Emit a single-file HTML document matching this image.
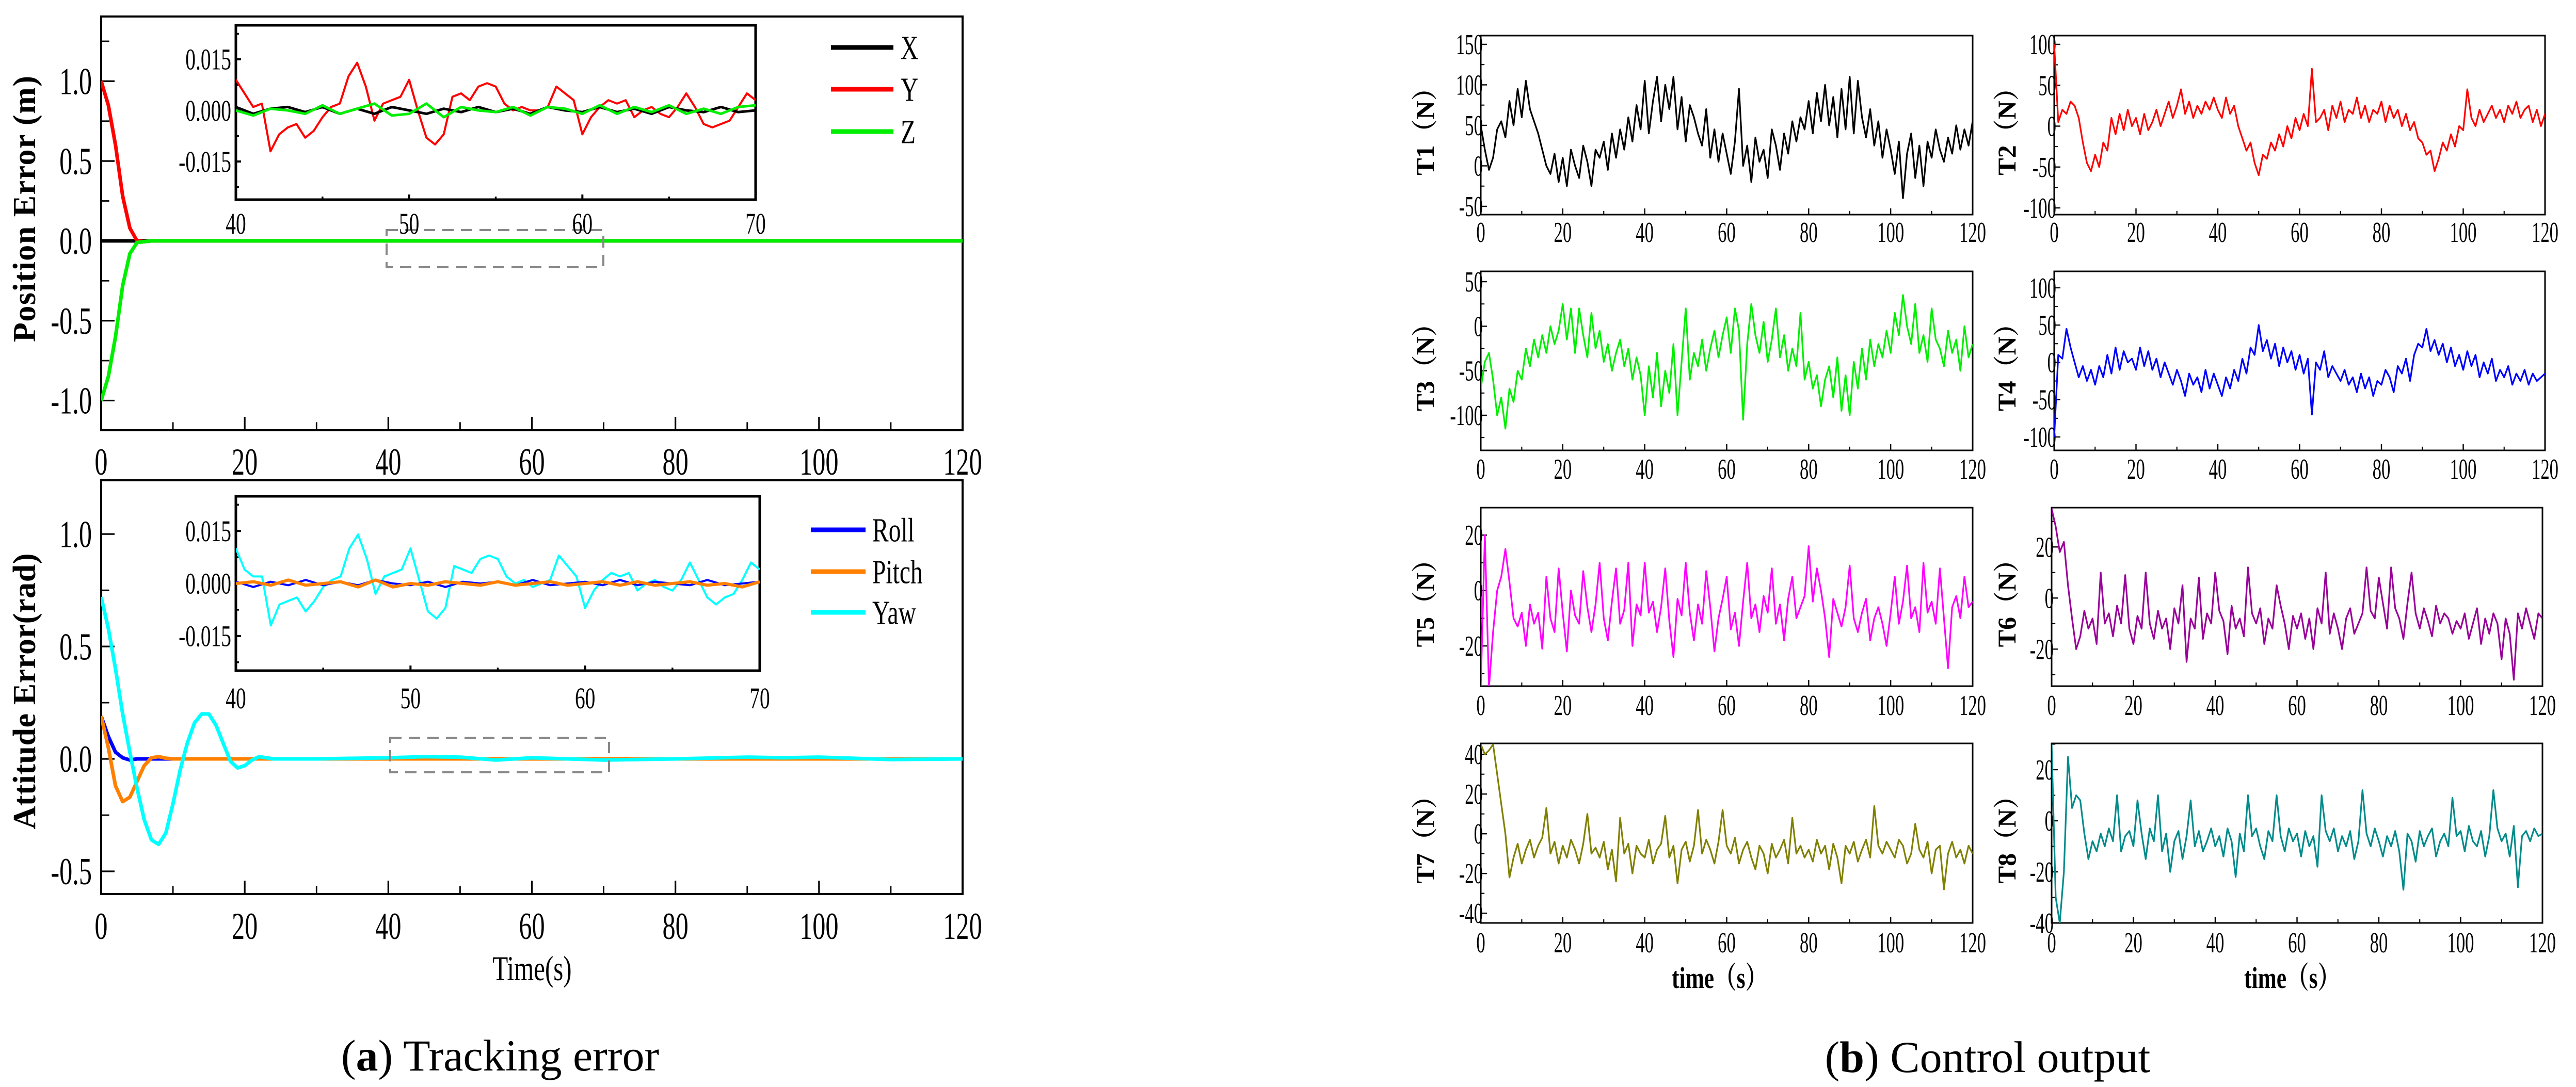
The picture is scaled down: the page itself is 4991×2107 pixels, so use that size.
<!DOCTYPE html>
<html><head><meta charset="utf-8">
<style>
html,body{margin:0;padding:0;background:#fff;}
svg{display:block;}
</style></head>
<body>
<svg id="chart" xmlns="http://www.w3.org/2000/svg" width="4991" height="2107" viewBox="0 0 4991 2107">
<rect x="0" y="0" width="4991" height="2107" fill="#ffffff"/>
</svg>
<script>
// ---------- data ----------
const posTime=[0,1,2,3,4,5,6,7,8,120];
const posX=[0,0,0,0,0,0,0,0,0,0];
const posY=[1.0,0.85,0.6,0.28,0.08,0.0,-0.005,0,0,0];
const posZ=[-1.0,-0.85,-0.6,-0.28,-0.08,-0.01,-0.005,0,0,0];
const attTime=[0,1,2,3,4,5,6,7,8,9,10,11,12,13,14,15,16,17,18,19,20,21,22,23,24,30,40,45,50,55,60,65,70,80,90,95,100,110,120];
const attRoll=[0.19,0.1,0.03,0.005,-0.005,0,0,0,0,0,0,0,0,0,0,0,0,0,0,0,0,0,0,0,0,0,0,0,0,0,0,0,0,0,0,0,0,0,0];
const attPitch=[0.19,0.05,-0.12,-0.19,-0.17,-0.1,-0.03,0.005,0.01,0.003,0,0,0,0,0,0,0,0,0,0,0,0,0,0,0,0,0,0,0,0,0,0,0,0,0,0,0,0,0];
const attYaw=[0.72,0.58,0.4,0.2,0.03,-0.13,-0.27,-0.36,-0.38,-0.33,-0.2,-0.05,0.07,0.16,0.2,0.2,0.15,0.07,-0.01,-0.04,-0.03,-0.005,0.01,0.005,0,0,0.005,0.01,0.008,-0.005,0.005,0,-0.005,0,0.008,0.005,0.008,-0.003,0];
// insets (40..70 s)
const insetY=[0.009,0.005,0.001,0.002,-0.012,-0.007,-0.005,-0.004,-0.008,-0.006,-0.002,0.001,0.002,0.010,0.014,0.007,-0.003,0.002,0.003,0.004,0.009,0.000,-0.008,-0.010,-0.007,0.004,0.005,0.003,0.007,0.008,0.007,0.002,0.000,0.001,0.000,0.000,0.001,0.007,0.005,0.003,-0.007,-0.002,0.001,0.003,0.002,0.003,-0.002,0.000,0.001,-0.001,-0.002,0.001,0.005,0.001,-0.004,-0.005,-0.004,-0.003,0.001,0.005,0.003];
const insetX=[0.001,-0.001,0.0005,0.001,-0.0005,0.001,-0.001,0.0005,-0.001,0.001,0,-0.001,0.0005,-0.0005,0.001,-0.0005,0.0005,-0.001,0.001,0,-0.0005,0.001,-0.0005,0.0005,-0.001,0.001,0,-0.0005,0.001,-0.0005,0];
const insetZ=[0,-0.0015,0.0005,0,-0.001,0.0015,-0.001,0.0005,0.002,-0.0015,-0.001,0.002,-0.002,0.001,0,-0.0005,0.001,-0.0015,0.001,0.0005,-0.001,0.0015,-0.001,0.001,-0.0005,0.0015,-0.001,0.0005,-0.001,0.001,0.0015];
const insetYaw=[0.010,0.004,0.002,0.002,-0.012,-0.006,-0.005,-0.004,-0.008,-0.005,-0.001,0.001,0.002,0.010,0.014,0.007,-0.003,0.002,0.003,0.004,0.010,0.001,-0.008,-0.010,-0.007,0.005,0.004,0.003,0.007,0.008,0.007,0.002,0.000,0.001,-0.001,0.000,0.001,0.008,0.005,0.002,-0.007,-0.002,0.001,0.003,0.002,0.003,-0.002,0.000,0.001,-0.001,-0.002,0.001,0.006,0.001,-0.004,-0.006,-0.004,-0.003,0.001,0.006,0.004];
const insetRoll=[0.0005,-0.001,0.0005,-0.0005,0.001,-0.0005,0.0005,-0.0005,0.001,0,-0.0005,0.0005,-0.001,0.0005,0,0.0005,-0.0005,0.001,-0.0005,0,0.0005,-0.0005,0.001,-0.0005,0.0005,0,-0.0005,0.001,-0.0005,0,0.0005];
const insetPitch=[0,0.0005,-0.0005,0.001,-0.0005,0,0.0005,-0.001,0.001,-0.001,0,-0.0005,0.0005,0,-0.0005,0.0005,-0.0005,0,0.0005,-0.0005,0,0.0005,-0.0005,0.0005,-0.0005,0,0.0005,-0.0005,0,-0.001,0.0005];
// control outputs, uniform samples 0..120 s
const T1=[50,20,-5,10,45,55,35,80,50,95,60,105,70,55,40,20,0,-10,15,-20,10,-25,20,0,-15,25,5,-25,20,10,30,-5,40,10,45,20,60,30,75,45,105,40,80,110,55,100,70,110,45,85,30,75,60,40,25,70,10,45,5,40,15,-10,30,95,0,25,-20,35,5,20,-15,45,25,-5,40,15,55,30,60,45,80,40,90,55,100,50,85,35,95,45,110,40,105,60,35,70,25,55,10,45,20,-10,30,-40,15,40,-15,25,-25,30,10,45,20,5,35,15,50,20,45,25,55];
const T2=[100,5,20,15,30,25,10,-20,-45,-55,-35,-50,-20,-30,10,-10,15,-5,20,0,10,-10,15,-5,5,20,0,15,30,10,25,45,15,30,10,25,15,30,20,35,20,10,35,15,25,0,-15,-30,-20,-45,-60,-35,-40,-20,-30,-10,-25,0,-15,10,-5,15,0,70,5,10,20,-5,25,10,30,5,20,15,35,10,25,5,20,15,30,5,25,10,20,0,15,-5,5,-15,-20,-35,-30,-55,-40,-20,-30,-10,-25,0,-5,45,10,0,20,5,15,25,10,20,5,25,15,30,10,20,25,5,20,0,15];
const T3=[-70,-40,-30,-60,-100,-80,-115,-70,-85,-50,-60,-25,-45,-15,-35,-10,-30,0,-20,-5,25,-15,20,-30,20,-10,-35,15,-25,-5,-40,-20,-50,-30,-15,-45,-25,-60,-35,-55,-100,-45,-80,-30,-90,-50,-75,-20,-100,-40,20,-60,-30,-45,-15,-50,-25,-5,-35,-10,10,-30,20,-5,-105,-20,25,-10,-30,5,-40,-15,20,-35,-10,-50,-25,-45,15,-60,-40,-70,-55,-90,-60,-45,-80,-35,-95,-55,-100,-40,-70,-25,-60,-15,-45,-20,-35,-5,-30,15,-10,35,0,-20,25,-30,-10,-40,20,-15,-25,-45,-5,-30,-15,-50,0,-35,-20];
const T4=[-100,10,5,45,20,0,-20,-5,-25,-10,-30,-5,-20,10,-15,20,-10,15,0,5,-10,20,-5,15,-10,5,-20,0,-15,-30,-10,-25,-45,-15,-30,-20,-40,-10,-35,-15,-30,-45,-20,-35,-10,-25,5,-15,20,10,50,15,30,5,25,-5,20,0,15,-10,10,-15,5,-70,0,-10,15,-20,-5,-15,-25,-10,-30,-20,-40,-15,-35,-20,-45,-25,-30,-10,-20,-40,-5,-15,5,-25,10,25,20,45,15,30,10,25,0,20,-5,10,-10,15,-5,10,-20,0,-15,5,-25,-10,-20,-5,-30,-15,-25,-10,-30,-15,-25,-20,-15];
const T5=[-35,20,-35,-15,0,5,15,3,-10,-13,-8,-20,-5,-12,-8,-21,5,-10,-15,8,-8,-22,0,-9,-12,7,-6,-15,-5,10,-10,-18,-4,8,-12,-7,10,-20,-5,-9,10,-8,-4,-15,-6,8,-11,-24,-3,-9,10,-8,-18,-5,-12,7,-6,-22,-10,-3,5,-14,-8,-20,-4,10,-10,-5,-15,-2,-8,8,-12,-5,-18,-3,5,-10,-6,-2,16,-4,8,0,-10,-24,-3,-8,-13,-6,9,-10,-15,-8,-3,-18,-10,-6,-12,-20,-8,5,-12,-4,9,-10,-6,-15,10,-8,-4,-12,8,-10,-28,-6,-2,-10,5,-6,-4];
const T6=[35,28,18,22,5,-8,-20,-15,-5,-12,-8,-18,10,-10,-6,-15,-3,-10,9,-12,-18,-7,-12,10,-10,-16,-5,-12,-8,-20,-4,-10,5,-25,-8,-12,8,-16,-6,-10,10,-5,-9,-22,-3,-12,-8,-15,12,-6,-10,-4,-18,-8,-12,5,-3,-10,-20,-7,-12,-6,-16,-8,-20,-4,-10,10,-14,-6,-12,-20,-8,-4,-14,-10,-6,12,-5,-8,8,-2,-12,12,-4,-8,-16,-2,10,-6,-12,-4,-9,-15,-3,-10,-6,-8,-14,-9,-12,-6,-16,-10,-4,-18,-8,-14,-6,-10,-24,-8,-14,-32,-6,-12,-4,-10,-16,-6,-8];
const T7=[45,40,42,45,30,15,0,-22,-12,-5,-15,-8,-3,-12,-6,-2,13,-10,-4,-15,-6,-12,-3,-8,-15,-5,10,-10,-7,-12,-4,-18,-8,-24,8,-10,-5,-20,-6,-10,-12,-3,-15,-8,-5,9,-12,-6,-25,-8,-4,-14,-6,12,-10,-3,-8,-15,-4,12,-6,-10,-2,-15,-8,-4,-12,-18,-6,-10,-20,-5,-12,-8,-3,-15,8,-10,-6,-12,-8,-14,-3,-10,-6,-18,-5,-12,-25,-6,-10,-4,-14,-8,-3,-12,14,-6,-10,-4,-8,-12,-3,-6,-15,-10,5,-8,-12,-4,-20,-8,-6,-28,-10,-4,-12,-8,-15,-6,-10];
const T8=[30,-30,-40,-20,25,5,10,8,-5,-15,-8,-12,-5,-10,-3,-8,10,-12,-6,-4,-10,8,-5,-15,-3,-8,10,-12,-5,-20,-8,-4,-15,-6,8,-10,-4,-12,-8,-3,-10,-6,-14,-3,-8,-22,-5,-12,10,-6,-3,-10,-15,-4,-8,10,-6,-12,-3,-8,-5,-14,-4,-10,-6,-18,10,-4,-8,-3,-12,-6,-10,-4,-15,-8,12,-5,-10,-3,-8,-14,-6,-10,-4,-12,-27,-5,-8,-16,-4,-10,-6,-3,-14,-8,-5,-10,9,-6,-4,-12,-2,-8,-10,-4,-14,-6,12,-3,-8,-5,-14,-2,-26,-6,-4,-8,-3,-6,-5];
const mainXTicks=[0,20,40,60,80,100,120];
const insetXTicks=[40,50,60,70];
const posYTicks=[-1.0,-0.5,0.0,0.5,1.0];
const attYTicks=[-0.5,0.0,0.5,1.0];
const insetYTicks=[-0.015,0,0.015];

// ---------- helpers ----------
const NS='http://www.w3.org/2000/svg';
const svg=document.getElementById('chart');
const FONT='"Liberation Serif", serif';
let clipId=0;
function mk(tag,parent,attrs){const e=document.createElementNS(NS,tag);for(const k in attrs)e.setAttribute(k,attrs[k]);parent.appendChild(e);return e;}
function ctext(parent,x,y,str,size,anchor,sx,weight){
  const t=mk('text',parent,{transform:`translate(${x},${y}) scale(${sx},1)`,'font-size':size,'text-anchor':anchor,'font-family':FONT,'font-weight':weight||'normal',fill:'#000'});
  t.textContent=str;return t;
}
function axes(c){
  const g=mk('g',svg,{});
  
  
  const xs=v=>c.x0+(v-c.xmin)/(c.xmax-c.xmin)*(c.x1-c.x0);
  const ys=v=>c.y1-(v-c.ymin)/(c.ymax-c.ymin)*(c.y1-c.y0);
  const fr=mk('rect',g,{x:c.x0,y:c.y0,width:c.x1-c.x0,height:c.y1-c.y0,fill:'#fff',stroke:'#000','stroke-width':c.fw});
  
  
  const cid='clip'+(clipId++);
  const cp=mk('clipPath',g,{id:cid});
  mk('rect',cp,{x:c.x0,y:c.y0,width:c.x1-c.x0,height:c.y1-c.y0});
  const tk=c.tl;
  c.xticks.forEach((v,i)=>{
    const X=xs(v);
    mk('line',g,{x1:X,x2:X,y1:c.y1,y2:c.y1-tk,stroke:'#000','stroke-width':c.fw*0.8});
    if(i<c.xticks.length-1){const m=xs(v+(c.xticks[1]-c.xticks[0])/2);mk('line',g,{x1:m,x2:m,y1:c.y1,y2:c.y1-tk*0.6,stroke:'#000','stroke-width':c.fw*0.7});}
    const t=ctext(g,X,c.xlabY,c.xfmt?c.xfmt(v):String(v),c.fs,'middle',c.sx);
    
    
  });
  c.yticks.forEach((v,i)=>{
    const Y=ys(v);
    mk('line',g,{x1:c.x0,x2:c.x0+tk,y1:Y,y2:Y,stroke:'#000','stroke-width':c.fw*0.8});
    const step=c.yticks[1]-c.yticks[0];
    [v-step/2,v+step/2].forEach(m=>{if(m>c.ymin&&m<c.ymax&&(i===0||m>v)){const Ym=ys(m);mk('line',g,{x1:c.x0,x2:c.x0+tk*0.6,y1:Ym,y2:Ym,stroke:'#000','stroke-width':c.fw*0.7});}});
    const t=ctext(g,c.ylabX,Y+c.fs*0.34,c.yfmt(v),c.fs,'end',c.sx);
    
    
  });
  return {g,xs,ys,cid};
}
function series(ax,xsArr,ysArr,color,w,name){
  const pts=ysArr.map((v,i)=>ax.xs(xsArr[i]).toFixed(1)+','+ax.ys(v).toFixed(1)).join(' ');
  const p=mk('polyline',ax.g,{points:pts,fill:'none',stroke:color,'stroke-width':w,'stroke-linejoin':'round','clip-path':`url(#${ax.cid})`});
  
  
  return p;
}
function uniformTimes(n,t0,t1){const a=[];for(let i=0;i<n;i++)a.push(t0+(t1-t0)*i/(n-1));return a;}
function legend(items,x1,x2,tx,ysArr,fs){
  items.forEach((it,i)=>{
    const l=mk('line',svg,{x1:x1,x2:x2,y1:ysArr[i],y2:ysArr[i],stroke:it[1],'stroke-width':9});
    
    
    const t=ctext(svg,tx,ysArr[i]+fs*0.34,it[0],fs,'start',0.72);
    
    
  });
}
const f1=v=>v.toFixed(1);
const f3=v=>v.toFixed(3);

// ---------- (a) position error ----------
const pa=axes({name:'position-error-plot',x0:196,x1:1865,y0:32,y1:834,xmin:0,xmax:120,ymin:-1.186,ymax:1.405,xticks:mainXTicks,yticks:posYTicks,yfmt:f1,fs:74,sx:0.68,xlabY:920,ylabX:178,fw:4,tl:26});
series(pa,posTime,posX,'#000',7,'series-x');
series(pa,posTime,posY,'#ff0000',7,'series-y');
series(pa,posTime,posZ,'#00ee00',7,'series-z');
let db=mk('rect',svg,{x:749,y:446,width:420,height:72,fill:'none',stroke:'#888','stroke-width':4,'stroke-dasharray':'22 14'});


const pi=axes({name:'position-inset',x0:457,x1:1464,y0:49,y1:387,xmin:40,xmax:70,ymin:-0.0262,ymax:0.025,xticks:insetXTicks,yticks:insetYTicks,yfmt:f3,fs:58,sx:0.68,xlabY:453,ylabX:448,fw:5,tl:10});
const insT=uniformTimes(61,40,70), insT2=uniformTimes(31,40,70);
series(pi,insT,insetY,'#ff0000',4,'inset-series-y');
series(pi,insT2,insetX,'#000',5,'inset-series-x');
series(pi,insT2,insetZ,'#00ee00',5,'inset-series-z');
legend([['X','#000'],['Y','#ff0000'],['Z','#00ee00']],1610,1731,1745,[92,173,255],66);
let yt=ctext(svg,0,0,'Position Error (m)',62,'middle',1,'bold');
yt.setAttribute('transform','translate(68,405) rotate(-90)');
yt.setAttribute('textLength','516');



// ---------- (a) attitude error ----------
const aa=axes({name:'attitude-error-plot',x0:196,x1:1865,y0:931,y1:1733,xmin:0,xmax:120,ymin:-0.601,ymax:1.239,xticks:mainXTicks,yticks:attYTicks,yfmt:f1,fs:74,sx:0.68,xlabY:1820,ylabX:178,fw:4,tl:26});
series(aa,attTime,attRoll,'#0000ff',7,'series-roll');
series(aa,attTime,attPitch,'#ff8000',7,'series-pitch');
series(aa,attTime,attYaw,'#00ffff',7,'series-yaw');
db=mk('rect',svg,{x:756,y:1430,width:424,height:67,fill:'none',stroke:'#888','stroke-width':4,'stroke-dasharray':'22 14'});


const ai=axes({name:'attitude-inset',x0:457,x1:1472,y0:962,y1:1300,xmin:40,xmax:70,ymin:-0.0249,ymax:0.0249,xticks:insetXTicks,yticks:insetYTicks,yfmt:f3,fs:58,sx:0.68,xlabY:1373,ylabX:448,fw:5,tl:10});
series(ai,insT,insetYaw,'#00ffff',4,'inset-series-yaw');
series(ai,insT2,insetRoll,'#0000ff',4,'inset-series-roll');
series(ai,insT2,insetPitch,'#ff8000',6,'inset-series-pitch');
legend([['Roll','#0000ff'],['Pitch','#ff8000'],['Yaw','#00ffff']],1571,1677,1690,[1027,1108,1187],66);
yt=ctext(svg,0,0,'Attitude Error(rad)',62,'middle',1,'bold');
yt.setAttribute('transform','translate(68,1340) rotate(-90)');
yt.setAttribute('textLength','535');


let xt=ctext(svg,1031,1900,'Time(s)',68,'middle',0.72);


let cap=mk('text',svg,{x:969,y:2075,'font-size':86,'text-anchor':'middle','font-family':FONT});
cap.innerHTML='(<tspan font-weight="bold">a</tspan>) Tracking error';



// ---------- (b) control outputs ----------
const fInt=v=>String(v);
const panels=[
 {n:'T1',d:T1,c:'#000000',x0:2869,x1:3822,y0:69,y1:416,ymin:-60.2,ymax:160.8,yt:[-50,0,50,100,150],xl:469},
 {n:'T2',d:T2,c:'#ff0000',x0:3980,x1:4931,y0:69,y1:416,ymin:-108.2,ymax:110.7,yt:[-100,-50,0,50,100],xl:469},
 {n:'T3',d:T3,c:'#00ee00',x0:2869,x1:3822,y0:526,y1:873,ymin:-139.4,ymax:61.6,yt:[-100,-50,0,50],xl:928},
 {n:'T4',d:T4,c:'#0000ff',x0:3980,x1:4931,y0:526,y1:873,ymin:-118,ymax:122,yt:[-100,-50,0,50,100],xl:928},
 {n:'T5',d:T5,c:'#ff00ff',x0:2869,x1:3822,y0:984,y1:1330,ymin:-34.5,ymax:29.9,yt:[-20,0,20],xl:1386},
 {n:'T6',d:T6,c:'#990099',x0:3975,x1:4926,y0:984,y1:1330,ymin:-34.5,ymax:35.4,yt:[-20,0,20],xl:1386},
 {n:'T7',d:T7,c:'#808000',x0:2869,x1:3822,y0:1441,y1:1789,ymin:-44.9,ymax:45.5,yt:[-40,-20,0,20,40],xl:1846},
 {n:'T8',d:T8,c:'#008b8b',x0:3975,x1:4926,y0:1441,y1:1789,ymin:-40,ymax:30.3,yt:[-40,-20,0,20],xl:1846}
];
panels.forEach(p=>{
  const ax=axes({name:'plot-'+p.n.toLowerCase(),x0:p.x0,x1:p.x1,y0:p.y0,y1:p.y1,xmin:0,xmax:120,ymin:p.ymin,ymax:p.ymax,xticks:mainXTicks,yticks:p.yt,yfmt:fInt,fs:56,sx:0.62,xlabY:p.xl,ylabX:p.x0+4,fw:3,tl:12});
  series(ax,uniformTimes(p.d.length,0,120),p.d,p.c,3.2,'series-'+p.n.toLowerCase());
  const tx=p.x0<3500?2762:3889;
  const t=ctext(svg,0,0,p.n+'（N）',50,'middle',1,'bold');
  t.setAttribute('font-family','"Liberation Serif","Noto Serif CJK SC",serif');
  t.setAttribute('transform',`translate(${tx+16},${(p.y0+p.y1)/2}) rotate(-90)`);
  
  
});
[[3332,'x-axis-title-left'],[4441,'x-axis-title-right']].forEach(a=>{
  const t=ctext(svg,a[0],1915,'time（s）',58,'middle',0.75,'bold');
  t.setAttribute('font-family','"Liberation Serif","Noto Serif CJK SC",serif');
  
  
});
cap=mk('text',svg,{x:3851,y:2078,'font-size':86,'text-anchor':'middle','font-family':FONT});
cap.innerHTML='(<tspan font-weight="bold">b</tspan>) Control output';


</script>
</body></html>
